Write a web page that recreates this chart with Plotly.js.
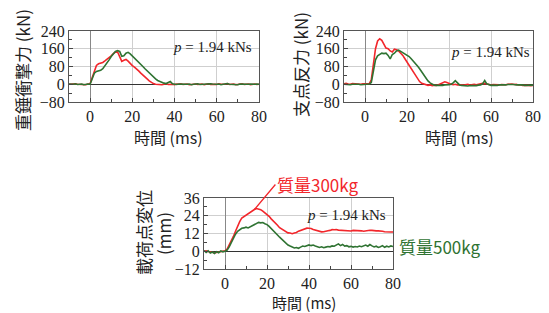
<!DOCTYPE html>
<html><head><meta charset="utf-8">
<script src="https://cdn.plot.ly/plotly-3.0.1.min.js"></script>
<style>html,body{margin:0;padding:0;background:#fff}#c{width:549px;height:313px}</style>
</head><body><div id="c"></div>
<script>
const t = [-10,-9,-8,-7,-6,-5,-4,-3,-2,-1,0,1,2,3,4,5,6,7,8,9,10,11,12,13,14,15,16,17,18,19,20,21,22,23,24,25,26,27,28,29,30,31,32,33,34,35,36,37,38,39,40,41,42,43,44,45,46,47,48,49,50,51,52,53,54,55,56,57,58,59,60,61,62,63,64,65,66,67,68,69,70,71,72,73,74,75,76,77,78,79,80];

// 重錘衝撃力 (kN)
const impactRed = [0,1,-1,2,0,-1,1,0,-2,1,
  2,30,60,85,92,95,98,105,112,120,128,138,145,146,125,103,108,112,104,92,84,77,70,60,50,40,32,24,15,8,3,0,
  -1,1,-2,0,2,-1,1,0,-2,1,0,2,-1,0,1,-2,0,2,1,-1,0,1,-2,0,2,-1,1,0,-1,2,0,-1,1,3,-1,0,1,-2,0,1,2,-1,0,1,-2,0,1,-1,0];
const impactGreen = [1,-1,0,2,-1,0,1,-2,0,1,
  0,25,50,58,60,63,70,82,95,110,125,138,148,152,148,126,128,140,144,137,128,120,110,100,90,80,70,60,50,40,32,24,17,12,8,5,3,6,12,2,
  0,-1,1,0,2,-1,0,1,-2,0,1,2,-1,0,1,-1,0,2,1,-1,0,1,-2,0,1,3,0,-1,1,0,-2,1,0,2,-1,0,1,-1,0,1,0];

// 支点反力 (kN)
const supportRed = [2,4,1,0,3,2,-1,1,0,2,
  1,0,2,20,90,160,195,205,198,178,163,160,150,145,158,155,150,140,130,115,100,85,70,52,38,25,12,4,0,-3,-5,-3,-6,-4,-5,-2,3,9,11,8,3,0,-2,0,-3,-1,-2,-4,-2,0,-3,-1,0,-2,1,2,4,3,0,-1,-3,-1,-2,-4,-3,-1,-3,-2,0,2,1,-1,0,-3,-2,-5,-4,-6,-5,-7,-5];
const supportGreen = [0,-1,1,-2,0,1,-1,0,-2,-1,
  -1,0,1,8,60,110,128,136,140,138,140,130,114,134,140,150,154,148,142,138,134,125,115,105,95,82,70,55,40,28,15,6,0,-4,-5,-6,-4,-5,-3,-4,-2,0,6,16,4,-3,-5,-7,-6,-8,-6,-7,-5,-6,-4,-3,2,17,2,-3,-5,-4,-6,-5,-3,-4,-2,-3,-1,0,-2,-1,-3,-2,-4,-3,-5,-4,-3,-5,-4];

// 載荷点変位 (mm)
const dispRed = [0,0.3,-0.2,-0.5,-0.8,-1,-0.8,-0.5,-0.3,0,
  0.3,1.5,4,7,10,13.5,17,20,22.5,23.5,24.5,25.6,26.4,27.6,28.2,28.9,28.5,28.1,27.1,26.1,24.9,23.6,21.9,20.6,18.9,17.6,15.9,14.9,13.9,13.3,12.4,12.3,11.9,12.4,12.7,13.6,14.1,14.9,15.1,15.6,15.5,15.4,14.7,14.3,13.7,13.5,13.1,13.2,13.3,13.9,14.1,14.6,14.5,14.7,14.3,14.2,13.7,13.7,13.4,13.7,13.7,14.1,14.1,14.2,13.8,13.8,13.5,13.8,13.8,14.2,14.1,14.2,13.8,13.8,13.4,13.5,13.2,13.3,12.9,13.0,13.0];
const dispGreen = [0.5,-0.8,0.3,-1.2,-0.5,-1.5,-0.3,-1,0.2,-0.4,
  0,0.8,3,6,9,11.5,13.5,14.8,15.5,15.8,16.3,15.8,16.5,17.4,18,19,19.5,19.2,19.4,18.6,18,16.8,15.5,14,12.5,11,9.5,8,6.8,5.5,4.2,3.5,2.8,2.2,2.5,2.0,2.8,3.5,3.2,4.0,4.3,3.8,4.2,3.6,3.2,2.6,3.0,2.4,2.8,3.2,3.0,3.6,3.4,4.2,5.0,3.8,4.6,3.5,3.8,3.0,3.3,2.8,3.2,2.9,3.5,3.1,3.8,4.2,3.4,4.5,3.6,2.9,3.4,2.6,3.1,3.8,2.7,3.4,2.9,3.6,3.2];

const xTicks = [0,20,40,60,80];
const forceTicks = [-80,0,80,160,240];
const dispTicks = [-12,0,12,24,36];
const labelP = '<i>p</i> = 1.94 kNs';
const label300 = '質量300kg';
const label500 = '質量500kg';
const titleX = '時間 (ms)';
const title1 = '重錘衝撃力 (kN)';
const title2 = '支点反力 (kN)';
const title3a = '載荷点変位';
const title3b = '(mm)';

const RED = '#f2262b', GREEN = '#2f7332';
const serif = 'Liberation Serif', cjk = 'Noto Sans CJK JP';

function tr(y, color, xa, ya) {
  return {x: t, y: y, type: 'scatter', mode: 'lines', line: {color: color, width: 1.6}, xaxis: xa, yaxis: ya, hoverinfo: 'skip'};
}
const data = [
  tr(impactRed, RED, 'x', 'y'), tr(impactGreen, GREEN, 'x', 'y'),
  tr(supportRed, RED, 'x2', 'y2'), tr(supportGreen, GREEN, 'x2', 'y2'),
  tr(dispRed, RED, 'x3', 'y3'), tr(dispGreen, GREEN, 'x3', 'y3')
];

function xax(dom, anchor) {
  return {domain: dom, anchor: anchor, range: [-10, 80], tickvals: xTicks, ticks: 'inside', ticklen: 4, tickcolor: '#444',
    showline: true, mirror: true, linecolor: '#555', linewidth: 1, showgrid: true, gridcolor: '#cfcfcf', gridwidth: 1,
    zeroline: true, zerolinecolor: '#888', zerolinewidth: 1,
    minor: {tickvals: [10, 30, 50, 70], ticks: 'inside', ticklen: 3, tickcolor: '#444', showgrid: false},
    tickfont: {family: serif, size: 16, color: '#222'}, fixedrange: true};
}
function yax(dom, anchor, rng, ticks, mticks) {
  return {domain: dom, anchor: anchor, range: rng, tickvals: ticks, ticks: 'inside', ticklen: 4, tickcolor: '#444',
    showline: true, mirror: true, linecolor: '#555', linewidth: 1, showgrid: true, gridcolor: '#cfcfcf', gridwidth: 1,
    zeroline: true, zerolinecolor: '#333', zerolinewidth: 1,
    minor: {tickvals: mticks, ticks: 'inside', ticklen: 3, tickcolor: '#444', showgrid: false},
    tickfont: {family: serif, size: 16, color: '#222'}, fixedrange: true};
}

const W = 549, H = 313;
const px = v => v / W, py = v => 1 - v / H;

const layout = {
  width: W, height: H, margin: {l: 0, r: 0, t: 0, b: 0}, showlegend: false,
  font: {family: serif, size: 16, color: '#222'},
  paper_bgcolor: '#fff', plot_bgcolor: '#fff',
  xaxis: xax([px(69), px(259)], 'y'),
  yaxis: yax([py(102), py(31)], 'x', [-80, 240], forceTicks, [-40, 40, 120, 200]),
  xaxis2: xax([px(344), px(533)], 'y2'),
  yaxis2: yax([py(102), py(31)], 'x2', [-80, 240], forceTicks, [-40, 40, 120, 200]),
  xaxis3: xax([px(204), px(393)], 'y3'),
  yaxis3: yax([py(269), py(198)], 'x3', [-12, 36], dispTicks, [-6, 6, 18, 30]),
  annotations: [
    {text: labelP, xref: 'x domain', yref: 'y domain', x: 0.975, y: 0.775, xanchor: 'right', yanchor: 'middle', showarrow: false, font: {family: serif, size: 15, color: '#222'}},
    {text: labelP, xref: 'x2 domain', yref: 'y2 domain', x: 0.995, y: 0.70, xanchor: 'right', yanchor: 'middle', showarrow: false, font: {family: serif, size: 15, color: '#222'}},
    {text: labelP, xref: 'x3 domain', yref: 'y3 domain', x: 0.975, y: 0.76, xanchor: 'right', yanchor: 'middle', showarrow: false, font: {family: serif, size: 15, color: '#222'}},
    {text: titleX, xref: 'paper', yref: 'paper', x: px(168), y: py(137), xanchor: 'center', yanchor: 'middle', showarrow: false, font: {family: cjk, size: 16, color: '#222'}},
    {text: titleX, xref: 'paper', yref: 'paper', x: px(459), y: py(137), xanchor: 'center', yanchor: 'middle', showarrow: false, font: {family: cjk, size: 16, color: '#222'}},
    {text: titleX, xref: 'paper', yref: 'paper', x: px(304), y: py(302), xanchor: 'center', yanchor: 'middle', showarrow: false, font: {family: cjk, size: 15, color: '#222'}},
    {text: title1, xref: 'paper', yref: 'paper', x: px(22), y: py(70), xanchor: 'center', yanchor: 'middle', textangle: -90, showarrow: false, font: {family: cjk, size: 17, color: '#222'}},
    {text: title2, xref: 'paper', yref: 'paper', x: px(300), y: py(65), xanchor: 'center', yanchor: 'middle', textangle: -90, showarrow: false, font: {family: cjk, size: 17, color: '#222'}},
    {text: title3a, xref: 'paper', yref: 'paper', x: px(143), y: py(233), xanchor: 'center', yanchor: 'middle', textangle: -90, showarrow: false, font: {family: cjk, size: 17, color: '#222'}},
    {text: title3b, xref: 'paper', yref: 'paper', x: px(163), y: py(234), xanchor: 'center', yanchor: 'middle', textangle: -90, showarrow: false, font: {family: cjk, size: 17, color: '#222'}},
    {text: label300, xref: 'x3', yref: 'y3', x: 14, y: 28.2, ax: 21, ay: -25, xanchor: 'left', yanchor: 'middle', showarrow: true, arrowhead: 0, arrowwidth: 1.3, arrowcolor: RED, standoff: 0, font: {family: cjk, size: 17, color: RED}},
    {text: label500, xref: 'paper', yref: 'paper', x: px(397), y: py(246), xanchor: 'left', yanchor: 'middle', showarrow: false, font: {family: cjk, size: 17, color: GREEN}}
  ]
};

Plotly.newPlot('c', data, layout, {staticPlot: true, displayModeBar: false});
</script>
</body></html>
